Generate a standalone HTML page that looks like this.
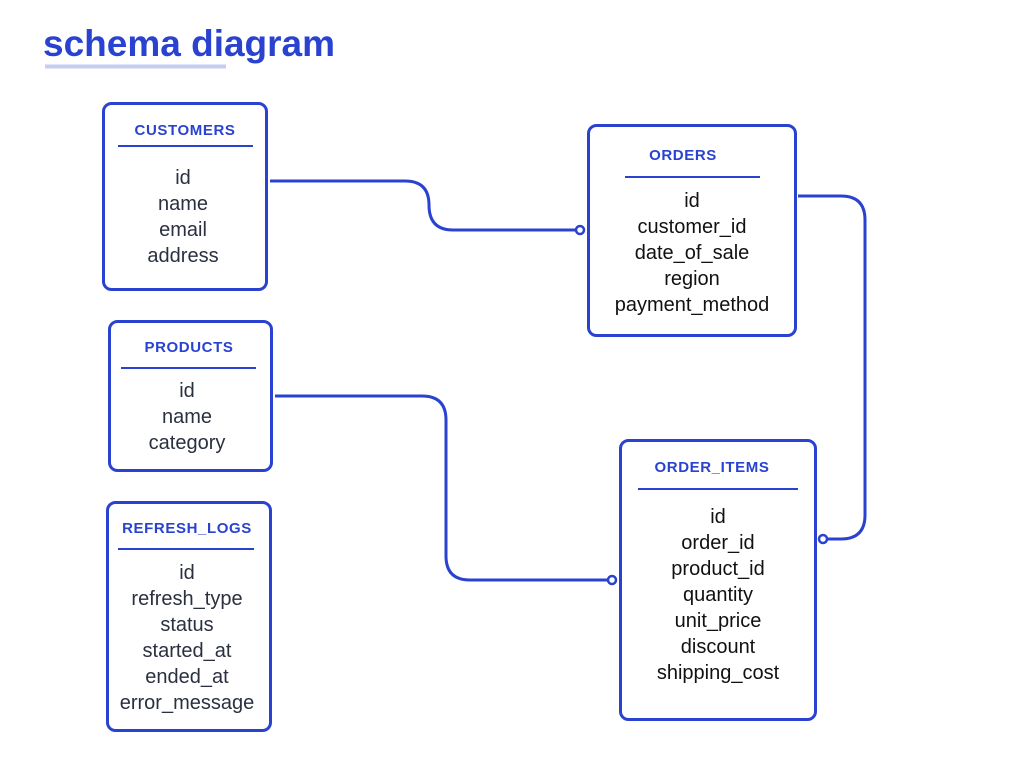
<!DOCTYPE html>
<html><head><meta charset="utf-8"><style>
html,body{margin:0;padding:0;background:#fff;width:1024px;height:768px;overflow:hidden}
svg text{font-family:"Liberation Sans",sans-serif}
.t{font-weight:bold;font-size:15px;letter-spacing:0.6px;fill:#2a42d0;text-anchor:middle}
.f{font-size:20px;fill:#2a3040;text-anchor:middle}
.o{fill:#111}
</style></head><body>
<svg width="1024" height="768" xmlns="http://www.w3.org/2000/svg">
<text x="43" y="56" font-size="37" font-weight="bold" fill="#2a42d0" style="font-family:'Liberation Sans',sans-serif">schema diagram</text>
<rect x="45" y="64.5" width="181" height="4" fill="#c3cff0"/>
<g fill="none" stroke="#2a42d0" stroke-width="3">
<rect x="103.5" y="103.5" width="163" height="186" rx="8"/>
<rect x="588.5" y="125.5" width="207" height="210" rx="8"/>
<rect x="109.5" y="321.5" width="162" height="149" rx="8"/>
<rect x="107.5" y="502.5" width="163" height="228" rx="8"/>
<rect x="620.5" y="440.5" width="195" height="279" rx="8"/>
<path d="M270 181 H405 Q429 181 429 205 Q429 230 453 230 H576"/>
<path d="M798 196 H841 Q865 196 865 220 V515 Q865 539 841 539 H828"/>
<path d="M275 396 H422 Q446 396 446 420 V556 Q446 580 470 580 H608"/>
</g>
<g fill="#fff" stroke="#2a42d0" stroke-width="2.5">
<circle cx="580" cy="230" r="4"/><circle cx="823" cy="539" r="4"/><circle cx="612" cy="580" r="4"/>
</g>
<g stroke="#2a42d0" stroke-width="2">
<line x1="118" y1="146" x2="253" y2="146"/>
<line x1="625" y1="177" x2="760" y2="177"/>
<line x1="121" y1="368" x2="256" y2="368"/>
<line x1="118" y1="549" x2="254" y2="549"/>
<line x1="638" y1="489" x2="798" y2="489"/>
</g>
<text class="t" x="185" y="135">CUSTOMERS</text>
<text class="f" x="183" y="184">id</text><text class="f" x="183" y="210">name</text><text class="f" x="183" y="236">email</text><text class="f" x="183" y="262">address</text>
<text class="t" x="683" y="160">ORDERS</text>
<text class="f o" x="692" y="207">id</text><text class="f o" x="692" y="233">customer_id</text><text class="f o" x="692" y="259">date_of_sale</text><text class="f o" x="692" y="285">region</text><text class="f o" x="692" y="311">payment_method</text>
<text class="t" x="189" y="352">PRODUCTS</text>
<text class="f" x="187" y="397">id</text><text class="f" x="187" y="423">name</text><text class="f" x="187" y="449">category</text>
<text class="t" x="187" y="533">REFRESH_LOGS</text>
<text class="f" x="187" y="579">id</text><text class="f" x="187" y="605">refresh_type</text><text class="f" x="187" y="631">status</text><text class="f" x="187" y="657">started_at</text><text class="f" x="187" y="683">ended_at</text><text class="f" x="187" y="709">error_message</text>
<text class="t" x="712" y="472">ORDER_ITEMS</text>
<text class="f o" x="718" y="523">id</text><text class="f o" x="718" y="549">order_id</text><text class="f o" x="718" y="575">product_id</text><text class="f o" x="718" y="601">quantity</text><text class="f o" x="718" y="627">unit_price</text><text class="f o" x="718" y="653">discount</text><text class="f o" x="718" y="679">shipping_cost</text>
</svg>
</body></html>
